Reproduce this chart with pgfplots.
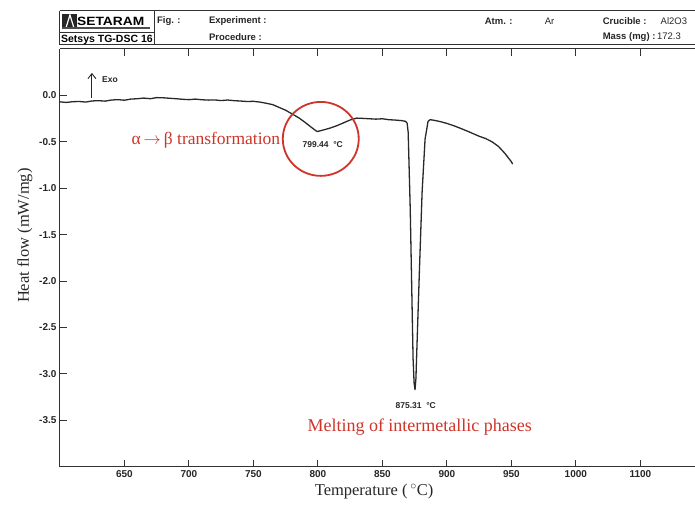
\documentclass[border=0pt]{standalone}
\usepackage{fontspec}
\setmainfont{Liberation Serif}
\newfontfamily\hsans{Liberation Sans}
\usepackage{pgfplots}
\pgfplotsset{compat=1.18}
\usetikzlibrary{arrows.meta}
\definecolor{myred}{RGB}{206,52,42}
\definecolor{curve}{RGB}{40,40,40}
\definecolor{frame}{RGB}{50,50,50}

\pgfplotstableread{
T v
600 -0.070
605 -0.076
610 -0.068
615 -0.066
620 -0.072
625 -0.060
630 -0.057
635 -0.062
640 -0.050
645 -0.046
650 -0.052
655 -0.040
660 -0.036
665 -0.029
670 -0.036
675 -0.024
680 -0.026
685 -0.031
690 -0.036
695 -0.042
700 -0.046
705 -0.040
710 -0.047
715 -0.051
720 -0.049
725 -0.056
730 -0.050
735 -0.057
740 -0.061
745 -0.066
750 -0.064
755 -0.072
760 -0.085
765 -0.100
770 -0.130
775 -0.160
780 -0.200
785 -0.240
790 -0.290
795 -0.345
799.4 -0.390
805 -0.370
810 -0.350
815 -0.325
820 -0.295
825 -0.265
830 -0.245
835 -0.248
840 -0.252
845 -0.256
850 -0.252
855 -0.262
860 -0.266
865 -0.272
868 -0.280
869.2 -0.300
870 -0.400
871.6 -1.230
873.8 -2.840
874.6 -3.100
875.3 -3.170
876.0 -3.050
876.9 -2.660
878.8 -1.850
880.8 -1.040
883.1 -0.470
885.4 -0.280
887 -0.262
890 -0.268
895 -0.283
900 -0.302
905 -0.325
910 -0.352
915 -0.380
920 -0.410
925 -0.440
930 -0.465
935 -0.500
940 -0.550
945 -0.625
950 -0.715
951 -0.740
}\dsc

\begin{document}
\begin{tikzpicture}
\begin{scope}[shift={(-60pt,467pt)},x=1pt,y=-1pt]
\path[use as bounding box] (0,0) rectangle (695,509);
\end{scope}
\begin{axis}[
  scale only axis, width=635pt, height=418pt,
  xmin=600, xmax=1092, ymin=-4, ymax=0.5,
  axis x line=box, axis y line*=left,
  axis line style={frame, line width=1pt},
  tick align=inside, major tick length=7pt,
  tick style={frame, line width=1pt},
  xtick={650,700,750,800,850,900,950,1000,1050},
  xticklabels={650,700,750,800,850,900,950,1000,1100},
  ytick={-3.5,-3,-2.5,-2,-1.5,-1,-0.5,0},
  yticklabels={-3.5,-3.0,-2.5,-2.0,-1.5,-1.0,-0.5,0.0},
  ticklabel style={font=\hsans\bfseries\fontsize{10}{11}\selectfont, text=black!85},
  xlabel={Temperature (\,$^{\circ}$C)},
  ylabel={Heat flow (mW/mg)},
  every axis x label/.style={at={(ticklabel cs:0.495)}, anchor=north, font=\fontsize{16.5}{19}\selectfont, text=black!85},
  every axis y label/.style={at={(ticklabel cs:0.553)}, rotate=90, anchor=south, font=\fontsize{16.5}{19}\selectfont, text=black!85},
]
\addplot[curve, line width=1.3pt, line join=round] table[x=T, y=v] {\dsc};
\end{axis}
\begin{scope}[shift={(-60pt,467pt)},x=1pt,y=-1pt]
  % header
  \draw[frame, line width=1pt] (60,11) -- (695,11);
  \draw[frame, line width=1pt] (60,45) -- (695,45);
  \draw[frame, line width=1pt] (60,11) -- (60,45);
  \draw[frame, line width=1pt] (155,11) -- (155,45);
  \draw[frame, line width=0.8pt] (60,32) -- (155,32);
  \fill[black!85] (62,14) rectangle (77,29);
  \draw[white, line width=1.2pt] (66,28) -- (70,15) -- (74,28);
  \node[anchor=west, inner sep=0pt, font=\hsans\bfseries\fontsize{12}{12}\selectfont, xscale=1.15, transform shape] at (77,21.5) {SETARAM};
  \fill[black!70] (62,27.5) rectangle (150,29.5);
  \node[anchor=west, inner sep=0pt, font=\hsans\bfseries\fontsize{10.5}{12}\selectfont] at (61,39.5) {Setsys TG-DSC 16};
  \begin{scope}[every node/.style={anchor=west, inner sep=0pt, font=\hsans\bfseries\fontsize{9.5}{11}\selectfont, text=black!85}]
    \node at (157,21.5) {Fig. :};
    \node at (209,21.5) {Experiment :};
    \node at (209,37) {Procedure :};
    \node at (485,21.5) {Atm. :};
    \node[font=\hsans\fontsize{9.5}{11}\selectfont] at (545,21.5) {Ar};
    \node at (603,21.5) {Crucible :};
    \node[font=\hsans\fontsize{9.5}{11}\selectfont] at (661,21.5) {Al2O3};
    \node at (603,37) {Mass (mg) :\,\mdseries 172.3};
  \end{scope}
  % annotations
  \draw[black!85, line width=0.9pt, -{Straight Barb[length=5pt, width=8pt]}] (92,98) -- (92,73);
  \node[anchor=west, inner sep=0pt, font=\hsans\bfseries\fontsize{8.5}{10}\selectfont, text=black!85] at (102,80) {Exo};
  \draw[myred, line width=1.8pt] (321,139) ellipse [x radius=38, y radius=37];
  \node[inner sep=0pt, font=\hsans\bfseries\fontsize{8.5}{10}\selectfont, text=black!85] at (323,145) {799.44\ \ °C};
  \node[inner sep=0pt, font=\hsans\bfseries\fontsize{8.5}{10}\selectfont, text=black!85] at (416,406) {875.31\ \ °C};
  \node[inner sep=0pt, font=\fontsize{17.5}{20}\selectfont, text=myred] at (206,140) {α\,$\rightarrow$\,β transformation};
  \node[inner sep=0pt, font=\fontsize{18}{20}\selectfont, text=myred] at (420,427) {Melting of intermetallic phases};
\end{scope}
\end{tikzpicture}
\end{document}
